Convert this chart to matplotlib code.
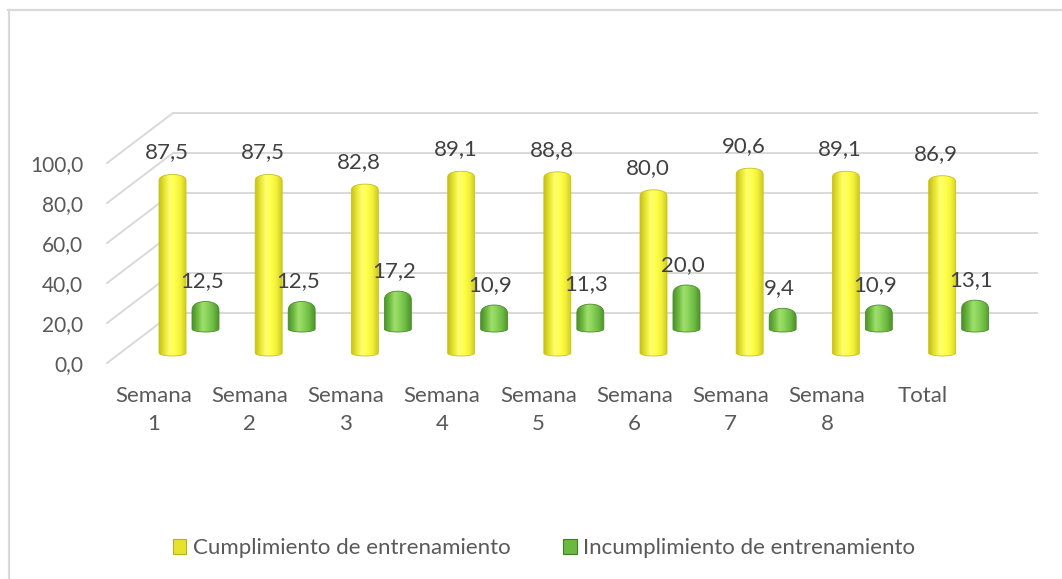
import numpy as np
import matplotlib
matplotlib.use("Agg")
import matplotlib.pyplot as plt
from matplotlib.patches import Polygon, Patch
from matplotlib.colors import LinearSegmentedColormap
from matplotlib.lines import Line2D

# ---------------- data ----------------
categories = ["Semana\n1", "Semana\n2", "Semana\n3", "Semana\n4", "Semana\n5",
              "Semana\n6", "Semana\n7", "Semana\n8", "Total"]
cumplimiento = [87.5, 87.5, 82.8, 89.1, 88.8, 80.0, 90.6, 89.1, 86.9]
incumplimiento = [12.5, 12.5, 17.2, 10.9, 11.3, 20.0, 9.4, 10.9, 13.1]
series_names = ["Cumplimiento de entrenamiento", "Incumplimiento de entrenamiento"]
yticks = [0, 20, 40, 60, 80, 100]
ytick_labels = ["0,0", "20,0", "40,0", "60,0", "80,0", "100,0"]

def fmt(v):
    return f"{v:.1f}".replace(".", ",")

# ---------------- style ----------------
plt.rcParams["font.family"] = ["Lato", "DejaVu Sans"]
W, H = 1062, 579
CAT = 96.2            # pixels per category
FS_Y = 15
FS_LBL = 16
FS_CAT = 16
FS_LEG = 16
AX_COL = "#595959"
LBL_COL = "#404040"
GRID_COL = "#D9D9D9"

fig = plt.figure(figsize=(W / 100, H / 100), dpi=100)
ax = fig.add_axes([100 / W, 1 - 380 / H, 940 / W, 280 / H])
XLIM = ((100 - 172.5) / CAT, (1040 - 172.5) / CAT)
YLIM = (-8.5, 131.5)

yellow_cmap = LinearSegmentedColormap.from_list(
    "y", ["#C4BE1A", "#E8E432", "#FFFF6E", "#FFFF4A", "#F2F03A", "#CFCB22"])
green_cmap = LinearSegmentedColormap.from_list(
    "g", ["#4B8F2B", "#6DB83F", "#9EE06C", "#86D057", "#6CB942", "#4E922D"])

def cylinder(xc, bottom, height, width, cap, base, cmap, edge, z):
    top = bottom + height
    hw = width / 2
    t = np.linspace(0, np.pi, 40)
    top_x = xc + hw * np.cos(t)
    top_y = top - cap + cap * np.sin(t) ** 0.7
    bot_x = xc - hw * np.cos(t)
    bot_y = bottom - base * np.sin(t)
    verts = np.column_stack([np.r_[bot_x, top_x], np.r_[bot_y, top_y]])
    poly = Polygon(verts, closed=True, facecolor="none", edgecolor=edge,
                   lw=0.6, zorder=z + 0.1)
    ax.add_patch(poly)
    grad = np.linspace(0, 1, 256).reshape(1, -1)
    im = ax.imshow(grad, cmap=cmap, extent=[xc - hw, xc + hw, bottom - base, top],
                   aspect="auto", zorder=z, interpolation="bicubic")
    im.set_clip_path(poly)
    return top

# ---------------- gridlines (back wall + side wall) ----------------
BACK = 25.0
x_back0 = (173 - 172.5) / CAT
x_back1 = (1038 - 172.5) / CAT
x_front = (107 - 172.5) / CAT
for v in yticks:
    ax.plot([x_back0, x_back1], [v + BACK, v + BACK], color=GRID_COL, lw=1.4, zorder=1,
            solid_capstyle="butt")
    ax.plot([x_front, x_back0], [v, v + BACK], color=GRID_COL, lw=1.4, zorder=1)

# ---------------- bars ----------------
x = np.arange(len(categories))
Y_W = 27 / CAT
G_W = 27 / CAT
G_OFF = 33 / CAT
for i, (c, g) in enumerate(zip(cumplimiento, incumplimiento)):
    gt = cylinder(x[i] + G_OFF, 17.0, g * 1.1, G_W, 5.0, 1.5, green_cmap, "#4A8A2A", 2)
    ax.text(x[i] + G_OFF - 0.04, gt + 10, fmt(g), ha="center", va="center",
            fontsize=FS_LBL, color=LBL_COL, zorder=6)
    yt = cylinder(x[i], 5.0, c * 1.02, Y_W, 3.5, 1.5, yellow_cmap, "#C8C21C", 3)
    ax.text(x[i] - 0.06, yt + 11, fmt(c), ha="center", va="center",
            fontsize=FS_LBL, color=LBL_COL, zorder=6)

# ---------------- axes ----------------
ax.set_xlim(*XLIM)
ax.set_ylim(*YLIM)
for s in ax.spines.values():
    s.set_visible(False)
ax.set_yticks(yticks)
ax.set_yticklabels(ytick_labels, fontsize=FS_Y, color=AX_COL)
ax.set_xticks(x - 19 / CAT)
ax.set_xticklabels(categories, fontsize=FS_CAT, color=AX_COL, linespacing=1.5)
ax.tick_params(axis="y", length=0, pad=12)
ax.tick_params(axis="x", length=0, pad=4)
ax.set_facecolor("none")

# ---------------- legend ----------------
handles = [Patch(facecolor="#E6E22E", edgecolor="#B8B218", lw=0.8),
           Patch(facecolor="#6CB942", edgecolor="#3F7D22", lw=0.8)]
fig.legend(handles, series_names, loc="center", bbox_to_anchor=(544 / W, 1 - 548 / H),
           ncol=2, frameon=False, fontsize=FS_LEG, labelcolor=AX_COL,
           handlelength=0.6, handleheight=0.65, handletextpad=0.3, columnspacing=2.4)

# ---------------- outer frame ----------------
fig.add_artist(Line2D([8 / W, 1], [1 - 9.5 / H, 1 - 9.5 / H], transform=fig.transFigure,
                      color=GRID_COL, lw=1.6))
fig.add_artist(Line2D([8.5 / W, 8.5 / W], [0, 1 - 9.5 / H], transform=fig.transFigure,
                      color=GRID_COL, lw=1.6))

fig.savefig("out.png", dpi=100, facecolor="white")
